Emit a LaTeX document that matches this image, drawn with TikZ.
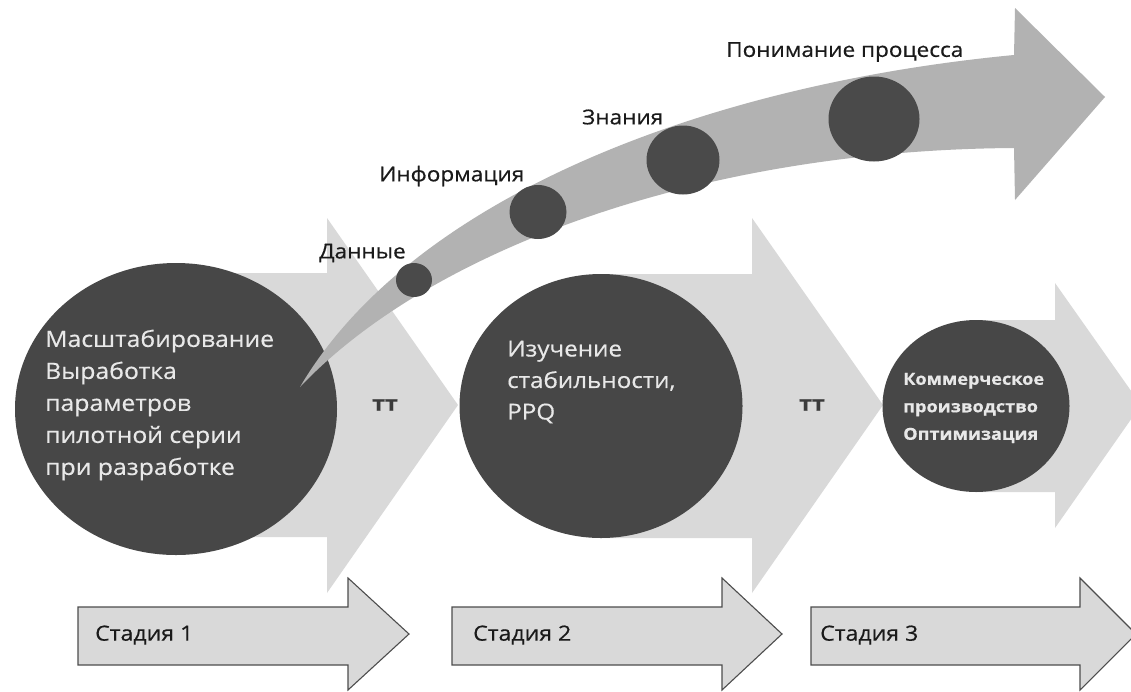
\documentclass[tikz,border=0pt]{standalone}
\usepackage{fontspec}
\setmainfont{Open Sans}[FakeStretch=1.1,FakeBold=0.5]
\usetikzlibrary{shapes.geometric}
\definecolor{lightarr}{HTML}{D9D9D9}
\definecolor{darkcirc}{HTML}{474747}
\definecolor{curvearr}{HTML}{B2B2B2}
\definecolor{dotcol}{HTML}{4A4A4A}
\definecolor{circtext}{HTML}{E8E8E8}
\definecolor{labtext}{HTML}{1A1A1A}
\definecolor{ttcol}{HTML}{3A3A3A}
\definecolor{stageline}{HTML}{4D4D4D}
\begin{document}
\begin{tikzpicture}[x=1pt,y=-1pt,
  bigarrow/.style={fill=lightarr, draw=none},
  bigcirc/.style={ellipse, fill=darkcirc, inner sep=0pt, draw=none},
  dotnode/.style={ellipse, fill=dotcol, inner sep=0pt, draw=none},
  circlabel/.style={text=circtext, align=left, inner sep=0pt, anchor=west},
  curvelabel/.style={text=labtext, inner sep=0pt, anchor=west, font=\fontsize{20.5}{24}\selectfont},
  ttlabel/.style={text=ttcol, inner sep=0pt, font=\fontsize{21}{24}\selectfont\bfseries},
  stagearrow/.style={fill=lightarr, draw=stageline, line width=1.1pt, line join=miter},
  stagelabel/.style={text=labtext, anchor=west, inner sep=0pt, font=\fontsize{21}{24}\selectfont}
]
\useasboundingbox (0,0) rectangle (1131,691);
\fill[white] (0,0) rectangle (1131,691);

% big light arrows
\fill[bigarrow] (176,273) -- (327,273) -- (327,218) -- (458,405) -- (327,593) -- (327,537) -- (176,537) -- cycle;
\fill[bigarrow] (601,274) -- (752,274) -- (752,218) -- (883,405) -- (752,593) -- (752,538) -- (601,538) -- cycle;
\fill[bigarrow] (976,320) -- (1055,320) -- (1055,283) -- (1141,405) -- (1055,528) -- (1055,492) -- (976,492) -- cycle;

% big circles
\node[bigcirc, minimum width=322pt, minimum height=292pt] (c1) at (176,409) {};
\node[bigcirc, minimum width=283pt, minimum height=264pt] (c2) at (601,406) {};
\node[bigcirc, minimum width=187pt, minimum height=172pt] (c3) at (976,406) {};

% curved arrow
\fill[curvearr] (300,387) .. controls (410,200) and (700,85) .. (1014,55)
  -- (1015,8) -- (1105,97) -- (1015,200) -- (1014,148)
  .. controls (700,150) and (430,250) .. (300,387) -- cycle;

% dots on the curved arrow
\node[dotnode, minimum width=36pt, minimum height=34pt] (d1) at (414,280) {};
\node[dotnode, minimum width=57pt, minimum height=54pt] (d2) at (538,212) {};
\node[dotnode, minimum width=73pt, minimum height=69pt] (d3) at (683,160) {};
\node[dotnode, minimum width=91pt, minimum height=85pt] (d4) at (874,119) {};

% labels along the curve
\node[curvelabel] (l1) at (319,253) {Данные};
\node[curvelabel] (l2) at (379,176) {Информация};
\node[curvelabel] (l3) at (582,117) {Знания};
\node[curvelabel] (l4) at (726,52) {Понимание процесса};

% circle texts
\node[circlabel, font=\fontsize{22.5}{32}\selectfont] (t1) at (45,405)
  {Масштабирование\\Выработка\\параметров\\пилотной серии\\при разработке};
\node[circlabel, font=\fontsize{22}{31.5}\selectfont] (t2) at (507,382)
  {Изучение\\стабильности,\\PPQ};
\node[circlabel, font=\fontsize{16.5}{27.5}\selectfont\bfseries] (t3) at (903,408)
  {Коммерческое\\производство\\Оптимизация};

% tt labels
\node[ttlabel] (tt1) at (385,405) {тт};
\node[ttlabel] (tt2) at (812,405) {тт};

% stage arrows
\draw[stagearrow] (78,607) -- (348,607) -- (348,578) -- (409,634) -- (348,690) -- (348,665) -- (78,665) -- cycle;
\draw[stagearrow] (452,607) -- (722,607) -- (722,578) -- (782,634) -- (722,690) -- (722,665) -- (452,665) -- cycle;
\draw[stagearrow] (811,607) -- (1080,607) -- (1080,578) -- (1136,634) -- (1080,690) -- (1080,665) -- (811,665) -- cycle;
\node[stagelabel] (s1) at (95,635) {Стадия 1};
\node[stagelabel] (s2) at (473,635) {Стадия 2};
\node[stagelabel] (s3) at (820,635) {Стадия 3};
\end{tikzpicture}
\end{document}
